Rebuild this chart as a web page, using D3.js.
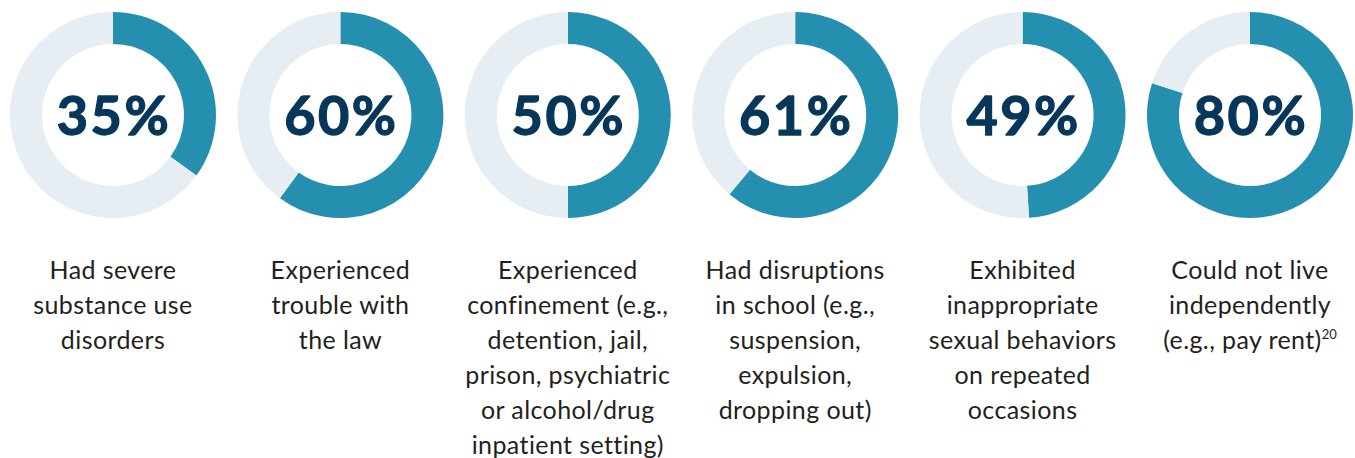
<!DOCTYPE html>
<html><head><meta charset="utf-8">
<script src="https://cdn.jsdelivr.net/npm/d3@7"></script>
<style>html,body{margin:0;padding:0;background:#fff;}svg{display:block;}</style>
</head><body>
<svg id="chart" width="1355" height="458"></svg>
<script>
const percents = [35, 60, 50, 61, 49, 80];
const labels = [
  ["Had severe", "substance use", "disorders"],
  ["Experienced", "trouble with", "the law"],
  ["Experienced", "confinement (e.g.,", "detention, jail,", "prison, psychiatric", "or alcohol/drug", "inpatient setting)"],
  ["Had disruptions", "in school (e.g.,", "suspension,", "expulsion,", "dropping out)"],
  ["Exhibited", "inappropriate", "sexual behaviors", "on repeated", "occasions"],
  ["Could not live", "independently", "(e.g., pay rent)"]
];
const footnotes = ["", "", "", "", "", "20"];

const svg = d3.select("#chart");
const x = d3.scalePoint().domain(d3.range(percents.length)).range([113, 1250]);
const cy = 115, rOuter = 103, rInner = 71;
const pie = d3.pie().sort(null).value(d => d);
const arc = d3.arc().innerRadius(rInner).outerRadius(rOuter);
const colors = ["#258FB0", "#E6EEF4"];

percents.forEach((p, i) => {
  const g = svg.append("g").attr("transform", `translate(${x(i)},${cy})`);
  g.selectAll("path").data(pie([p, 100 - p])).join("path")
    .attr("d", arc).attr("fill", (d, j) => colors[j]);
  g.append("text").attr("text-anchor", "middle").attr("x", 1).attr("y", 20)
    .attr("font-family", "Lato, 'Open Sans', sans-serif").attr("font-weight", 700)
    .attr("font-size", 54).attr("letter-spacing", 2.5)
    .attr("stroke", "#06375A").attr("stroke-width", 1.3).attr("stroke-linejoin", "round")
    .attr("fill", "#06375A").text(p + "%");

  const t = svg.append("text").attr("text-anchor", "middle")
    .attr("font-family", "Lato, 'Open Sans', sans-serif").attr("font-size", 25)
    .attr("letter-spacing", 0.4)
    .attr("fill", "#231F20");
  labels[i].forEach((line, k) => {
    t.append("tspan").attr("x", x(i)).attr("y", 279 + k * 35).text(line);
  });
  if (footnotes[i]) {
    t.append("tspan").attr("font-size", 13).attr("letter-spacing", 0).attr("dy", -10).text(footnotes[i]);
  }
});
</script>
</body></html>
